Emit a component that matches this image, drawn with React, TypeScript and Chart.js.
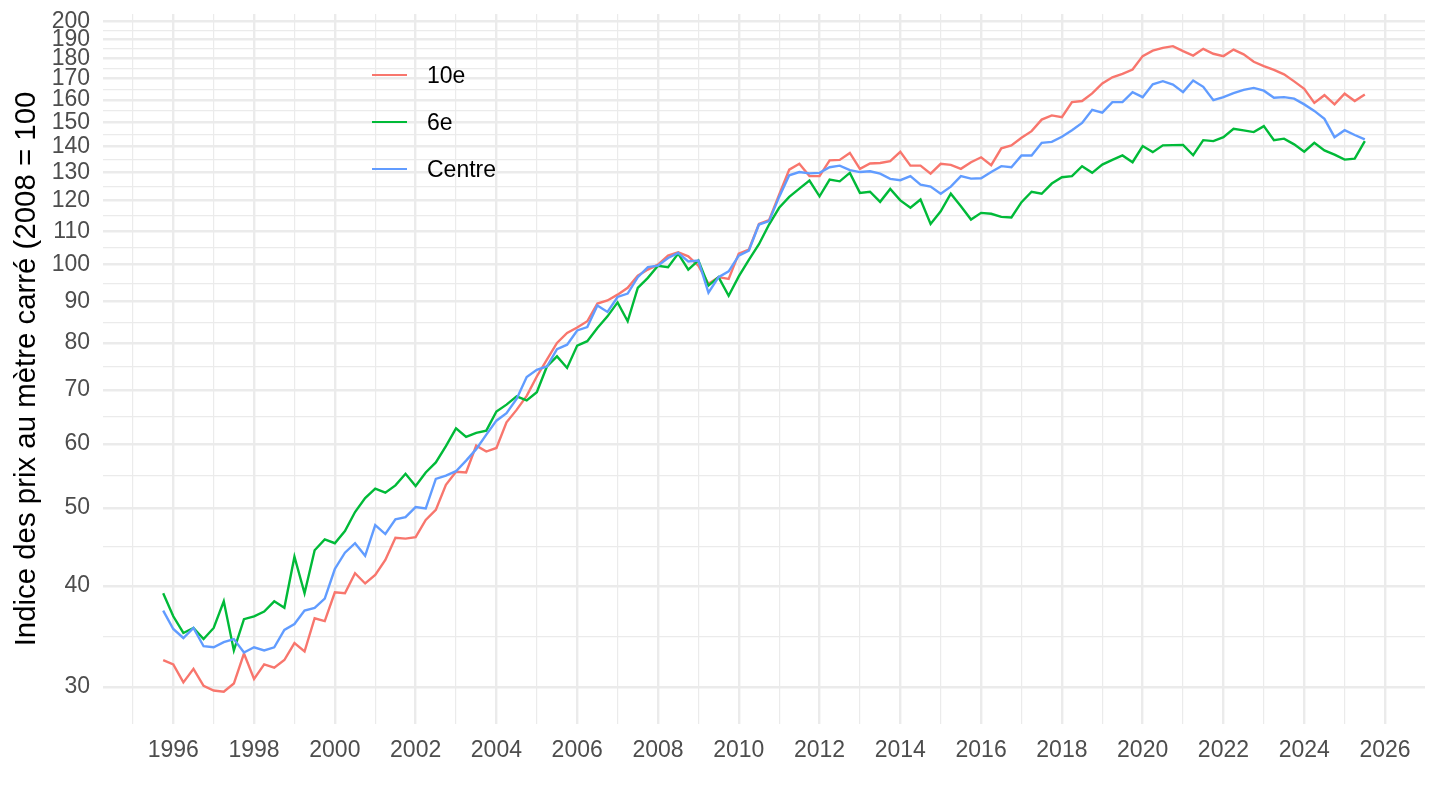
import React, { useEffect, useRef } from "react";
import { Chart, registerables } from "chart.js";

Chart.register(...registerables);

const FONT = '"Liberation Sans", Arial, Helvetica, sans-serif';

// Categories: quarterly observations, first one is 1995 Q4
const FIRST_YEAR = 1995;
const FIRST_QUARTER = 4;

const SERIES_NAMES = ["10e", "6e", "Centre"];
const SERIES_COLORS = ["#F8766D", "#00BA38", "#619CFF"];

// 10e arrondissement
const TENTH = [
  32.4, 32.0, 30.4, 31.6, 30.1, 29.7, 29.6, 30.3, 33.0, 30.7, 32.0, 31.7, 32.4, 34.0, 33.2, 36.5, 36.2, 39.3, 39.2, 41.5,
  40.3, 41.3, 43.1, 45.9, 45.8, 46.0, 48.3, 49.7, 53.4, 55.4, 55.3, 59.7, 58.7, 59.3, 63.8, 66.1, 68.8, 72.7, 76.3, 80.0,
  82.3, 83.6, 85.1, 89.5, 90.3, 91.8, 93.6, 96.9, 98.6, 100.0, 102.6, 103.6, 102.4, 99.7, 94.7, 96.5, 96.0, 103.2, 104.4, 112.3,
  113.5, 122.1, 131.1, 133.3, 128.7, 128.7, 134.6, 134.8, 137.5, 131.4, 133.4, 133.6, 134.3, 137.9, 132.6, 132.6, 129.6, 133.3, 132.9, 131.4,
  133.9, 135.8, 132.8, 139.3, 140.5, 143.6, 146.3, 151.2, 153.0, 152.2, 158.9, 159.4, 162.9, 167.6, 170.6, 172.3, 174.4, 181.2, 184.0, 185.5,
  186.4, 183.8, 181.5, 185.0, 182.4, 181.2, 184.6, 182.1, 178.3, 176.1, 174.2, 172.0, 168.6, 165.1, 158.6, 162.1, 157.9, 162.8, 159.4, 162.4,
];

// 6e arrondissement
const SIXTH = [
  39.2, 36.7, 35.0, 35.5, 34.4, 35.5, 38.3, 33.3, 36.4, 36.7, 37.2, 38.3, 37.6, 43.5, 39.2, 44.3, 45.7, 45.2, 46.8, 49.4,
  51.4, 52.8, 52.2, 53.3, 55.1, 53.2, 55.3, 56.9, 59.6, 62.7, 61.2, 61.9, 62.3, 65.8, 67.1, 68.7, 67.9, 69.5, 74.8, 77.0,
  74.5, 79.4, 80.4, 83.5, 86.3, 89.8, 85.1, 93.6, 96.3, 99.7, 99.3, 103.2, 98.6, 101.2, 94.2, 96.5, 91.5, 96.7, 101.4, 106.0,
  112.1, 117.6, 121.3, 124.2, 127.1, 121.5, 127.4, 126.8, 129.9, 122.7, 123.1, 119.6, 124.1, 120.1, 117.6, 120.4, 112.3, 116.4, 122.4, 118.1,
  113.7, 115.9, 115.6, 114.6, 114.4, 119.5, 123.1, 122.4, 126.0, 128.3, 128.7, 132.4, 129.9, 133.0, 134.8, 136.5, 133.9, 140.2, 137.8, 140.5,
  140.6, 140.7, 136.6, 142.6, 142.2, 143.8, 147.3, 146.6, 145.9, 148.4, 142.6, 143.2, 140.9, 138.0, 141.5, 138.5, 136.8, 134.9, 135.3, 142.2,
];

// Centre
const CENTRE = [
  37.3, 35.4, 34.5, 35.5, 33.7, 33.6, 34.1, 34.4, 33.1, 33.6, 33.3, 33.6, 35.3, 35.9, 37.3, 37.6, 38.6, 42.0, 44.0, 45.2,
  43.6, 47.6, 46.4, 48.4, 48.7, 50.1, 49.9, 54.3, 54.8, 55.5, 57.2, 59.1, 61.6, 64.1, 65.5, 68.2, 72.6, 74.1, 74.8, 78.6,
  79.6, 82.9, 83.7, 89.0, 87.4, 91.2, 92.1, 96.5, 99.3, 99.7, 101.9, 103.4, 100.9, 101.2, 92.3, 96.5, 98.1, 102.6, 104.1, 112.1,
  113.2, 121.3, 129.0, 130.2, 129.7, 129.9, 132.0, 132.6, 130.9, 130.2, 130.5, 129.6, 127.7, 127.2, 128.7, 125.6, 124.9, 122.4, 124.9, 128.7,
  127.8, 127.9, 130.2, 132.4, 132.0, 136.5, 136.5, 141.5, 141.9, 144.0, 146.7, 149.8, 155.5, 154.2, 158.9, 158.9, 163.5, 161.2, 167.2, 168.7,
  167.1, 163.5, 169.0, 166.0, 159.8, 161.2, 163.0, 164.6, 165.5, 164.2, 160.9, 161.2, 160.5, 157.9, 155.0, 151.5, 143.8, 146.7, 144.7, 142.9,
];

const SERIES_VALUES = [TENTH, SIXTH, CENTRE];

// Tick positions
const X_TICK_YEARS = [
  1995, 1996, 1997, 1998, 1999, 2000, 2001, 2002, 2003, 2004, 2005, 2006, 2007, 2008, 2009, 2010,
  2011, 2012, 2013, 2014, 2015, 2016, 2017, 2018, 2019, 2020, 2021, 2022, 2023, 2024, 2025, 2026,
];
const Y_MAJOR_TICKS = [30, 40, 50, 60, 70, 80, 90, 100, 110, 120, 130, 140, 150, 160, 170, 180, 190, 200];

const Y_TITLE = "Indice des prix au mètre carré (2008 = 100";

// Axis limits
const X_MIN = 1994.26;
const X_MAX = 2026.99;
const Y_MIN = 27.0;
const Y_MAX = 204.3;

// Legend vertical centres (px)
const LEGEND_Y = [75, 122, 169];

function quarterX(i: number): number {
  const q = FIRST_QUARTER - 1 + i;
  return FIRST_YEAR + Math.floor(q / 4) + (q % 4) / 4;
}

function yMinorTicks(): number[] {
  const out: number[] = [];
  for (let k = 0; k < Y_MAJOR_TICKS.length - 1; k++) {
    out.push(Math.sqrt(Y_MAJOR_TICKS[k] * Y_MAJOR_TICKS[k + 1]));
  }
  return out;
}

export default function App() {
  const canvasRef = useRef<HTMLCanvasElement | null>(null);

  useEffect(() => {
    document.body.style.margin = "0";
    const canvas = canvasRef.current;
    if (!canvas) return;
    Chart.defaults.font.family = FONT;

    const datasets = SERIES_NAMES.map((name, k) => ({
      label: name,
      data: SERIES_VALUES[k].map((v, i) => ({ x: quarterX(i), y: v })),
      borderColor: SERIES_COLORS[k],
      backgroundColor: SERIES_COLORS[k],
      borderWidth: 2.4,
      pointRadius: 0,
      tension: 0,
      fill: false,
      order: SERIES_NAMES.length - 1 - k,
    }));

    const minors = yMinorTicks();

    const chart = new Chart(canvas, {
      type: "line",
      data: { datasets },
      options: {
        responsive: false,
        animation: false,
        devicePixelRatio: 1,
        events: [],
        layout: { padding: { left: 0, right: 15, top: 14, bottom: 0 }, autoPadding: false },
        plugins: { legend: { display: false }, tooltip: { enabled: false } },
        scales: {
          x: {
            type: "linear",
            min: X_MIN,
            max: X_MAX,
            afterBuildTicks: (s: any) => {
              s.ticks = X_TICK_YEARS.map((v) => ({ value: v }));
            },
            afterFit: (s: any) => {
              s.height = 86;
              s.paddingLeft = 0;
              s.paddingRight = 0;
              s.paddingTop = 0;
              s.paddingBottom = 0;
            },
            ticks: {
              autoSkip: false,
              maxRotation: 0,
              minRotation: 0,
              padding: 13,
              color: "#4D4D4D",
              font: { family: FONT, size: 23 },
              callback: (v: any) => (Number(v) % 2 === 0 ? String(v) : ""),
            },
            grid: {
              color: "#EBEBEB",
              drawTicks: false,
              lineWidth: (c: any) => (c.tick && c.tick.value % 2 === 0 ? 2.4 : 1.2),
            },
            border: { display: false },
          },
          y: {
            type: "logarithmic",
            min: Y_MIN,
            max: Y_MAX,
            afterBuildTicks: (s: any) => {
              const all = [...Y_MAJOR_TICKS, ...minors].sort((a, b) => a - b);
              s.ticks = all.map((v) => ({ value: v }));
            },
            afterFit: (s: any) => {
              s.width = 103;
              s.paddingTop = 0;
              s.paddingBottom = 0;
              s.paddingLeft = 0;
              s.paddingRight = 0;
            },
            ticks: {
              autoSkip: false,
              padding: 13,
              color: "#4D4D4D",
              font: { family: FONT, size: 23 },
              callback: (v: any) => (Y_MAJOR_TICKS.includes(Number(v)) ? String(v) : ""),
            },
            grid: {
              color: "#EBEBEB",
              drawTicks: false,
              lineWidth: (c: any) => (c.tick && Y_MAJOR_TICKS.includes(c.tick.value) ? 2.4 : 1.2),
            },
            border: { display: false },
            title: {
              display: true,
              text: Y_TITLE,
              color: "#000000",
              font: { family: FONT, size: 29.4 },
              padding: { top: 9, bottom: 0 },
            },
          },
        },
      },
    } as any);

    return () => chart.destroy();
  }, []);

  return (
    <div style={{ position: "relative", width: 1440, height: 810, background: "#ffffff", fontFamily: FONT }}>
      <canvas ref={canvasRef} width={1440} height={810} style={{ display: "block", width: 1440, height: 810 }} />
      {SERIES_NAMES.map((name, k) => (
        <div
          key={name}
          style={{
            position: "absolute",
            left: 372,
            top: LEGEND_Y[k] - 15,
            height: 30,
            display: "flex",
            alignItems: "center",
            whiteSpace: "nowrap",
          }}
        >
          <span style={{ display: "inline-block", width: 35, height: 2.4, background: SERIES_COLORS[k] }} />
          <span style={{ marginLeft: 20, fontSize: 23, color: "#000000", lineHeight: "30px" }}>{name}</span>
        </div>
      ))}
    </div>
  );
}
